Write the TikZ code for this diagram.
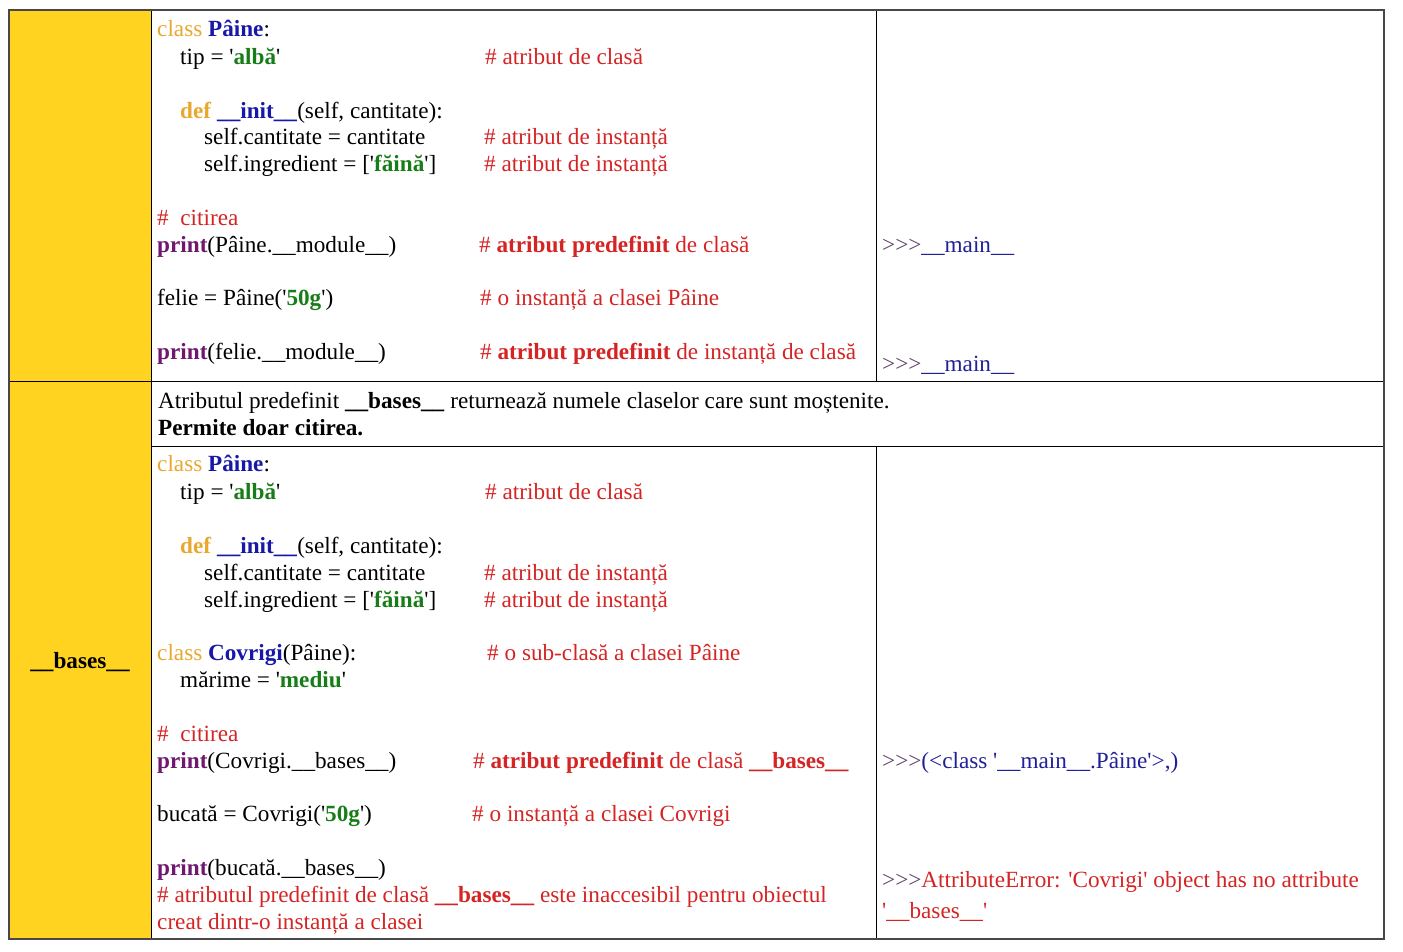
\documentclass[tikz,border=0pt]{standalone}
\usepackage{fontspec}
\setmainfont{Liberation Serif}
\usepackage{tikz}
\usepackage{color}
\definecolor{gold}{RGB}{255,211,32}
\definecolor{kwcol}{RGB}{232,168,48}
\definecolor{namecol}{RGB}{24,24,168}
\definecolor{strcol}{RGB}{24,124,24}
\definecolor{prcol}{RGB}{112,24,112}
\definecolor{comcol}{RGB}{212,36,36}
\definecolor{outcol}{RGB}{32,32,152}
\definecolor{promptcol}{RGB}{96,64,104}
\definecolor{rulegray}{RGB}{72,72,72}
\newcommand\kw[1]{\textcolor{kwcol}{#1}}
\newcommand\nm[1]{\textcolor{namecol}{\textbf{#1}}}
\newcommand\q{\textquotesingle}
\newcommand\strg[1]{\q\textcolor{strcol}{\textbf{#1}}\q}
\newcommand\prn{\textcolor{prcol}{\textbf{print}}}
\newcommand\cm[1]{\textcolor{comcol}{\#~#1}}
\newcommand\prompt{\textcolor{promptcol}{>{}>{}>}}
\newcommand\us{\_\_}

\begin{document}
\begin{tikzpicture}[x=1pt, y=-1pt,
    code/.style={anchor=base west, inner sep=0pt, font=\fontsize{23.2}{27}\selectfont}]
    \useasboundingbox (0,0) rectangle (1403,951);
    \fill[gold] (9,10) rectangle (151,939);
    \draw[thick] (151,10) -- (151,939);
    \draw[thick] (876,10) -- (876,381);
    \draw[thick] (876,446) -- (876,939);
    \draw[thick] (9,381) -- (1384,381);
    \draw[thick] (151,446) -- (1384,446);
    \draw[rulegray, line width=1.6pt] (9,10) -- (1384,10) -- (1384,939) -- (9,939) -- cycle;

    \node[anchor=base, inner sep=0pt, font=\fontsize{23.2}{27}\selectfont\bfseries] (label) at (80,668) {\us bases\us};

    \node[code] (a1) at (157,36) {\kw{class} \nm{Pâine}:};
    \node[code] (a2) at (180,64) {tip = \strg{albă}};
    \node[code] (a2c) at (485,64) {\cm{atribut de clasă}};
    \node[code] (a3) at (180,118) {\kw{\textbf{def}} \nm{\us init\us}(self, cantitate):};
    \node[code] (a4) at (204,144) {self.cantitate = cantitate};
    \node[code] (a4c) at (484,144) {\cm{atribut de instanță}};
    \node[code] (a5) at (204,171) {self.ingredient = [\strg{făină}]};
    \node[code] (a5c) at (484,171) {\cm{atribut de instanță}};
    \node[code] (a6) at (157,225) {\cm{\ citirea}};
    \node[code] (a7) at (157,252) {\prn(Pâine.\us module\us)};
    \node[code] (a7c) at (479,252) {\cm{\textbf{atribut predefinit} de clasă}};
    \node[code] (a7o) at (882,252) {\prompt\textcolor{outcol}{\us main\us}};
    \node[code] (a8) at (157,305) {felie = Pâine(\strg{50g})};
    \node[code] (a8c) at (480,305) {\cm{o instanță a clasei Pâine}};
    \node[code] (a9) at (157,359) {\prn(felie.\us module\us)};
    \node[code] (a9c) at (480,359) {\cm{\textbf{atribut predefinit} de instanță de clasă}};
    \node[code] (a9o) at (882,371) {\prompt\textcolor{outcol}{\us main\us}};

    \node[code] (d1) at (158,408) {Atributul predefinit \textbf{\us bases\us} returnează numele claselor care sunt moștenite.};
    \node[code] (d2) at (158,435) {\textbf{Permite doar citirea.}};

    \node[code] (b1) at (157,471) {\kw{class} \nm{Pâine}:};
    \node[code] (b2) at (180,499) {tip = \strg{albă}};
    \node[code] (b2c) at (485,499) {\cm{atribut de clasă}};
    \node[code] (b3) at (180,553) {\kw{\textbf{def}} \nm{\us init\us}(self, cantitate):};
    \node[code] (b4) at (204,580) {self.cantitate = cantitate};
    \node[code] (b4c) at (484,580) {\cm{atribut de instanță}};
    \node[code] (b5) at (204,607) {self.ingredient = [\strg{făină}]};
    \node[code] (b5c) at (484,607) {\cm{atribut de instanță}};
    \node[code] (b6) at (157,660) {\kw{class} \nm{Covrigi}(Pâine):};
    \node[code] (b6c) at (487,660) {\cm{o sub-clasă a clasei Pâine}};
    \node[code] (b7) at (180,687) {mărime = \strg{mediu}};
    \node[code] (b8) at (157,741) {\cm{\ citirea}};
    \node[code] (b9) at (157,768) {\prn(Covrigi.\us bases\us)};
    \node[code] (b9c) at (473,768) {\cm{\textbf{atribut predefinit} de clasă \textbf{\us bases\us}}};
    \node[code] (b9o) at (882,768) {\prompt\textcolor{outcol}{(<class \q\us main\us.Pâine\q>,)}};
    \node[code] (b10) at (157,821) {bucată = Covrigi(\strg{50g})};
    \node[code] (b10c) at (472,821) {\cm{o instanță a clasei Covrigi}};
    \node[code] (b11) at (157,875) {\prn(bucată.\us bases\us)};
    \node[code] (b12) at (157,902) {\cm{atributul predefinit de clasă \textbf{\us bases\us} este inaccesibil pentru obiectul}};
    \node[code] (b13) at (157,929) {\textcolor{comcol}{creat dintr-o instanță a clasei}};
    \node[code] (b11o) at (882,887) {\prompt\textcolor{comcol}{AttributeError: \q Covrigi\q{} object has no attribute}};
    \node[code] (b12o) at (882,918) {\textcolor{comcol}{\q\us bases\us\q}};
\end{tikzpicture}
\end{document}
